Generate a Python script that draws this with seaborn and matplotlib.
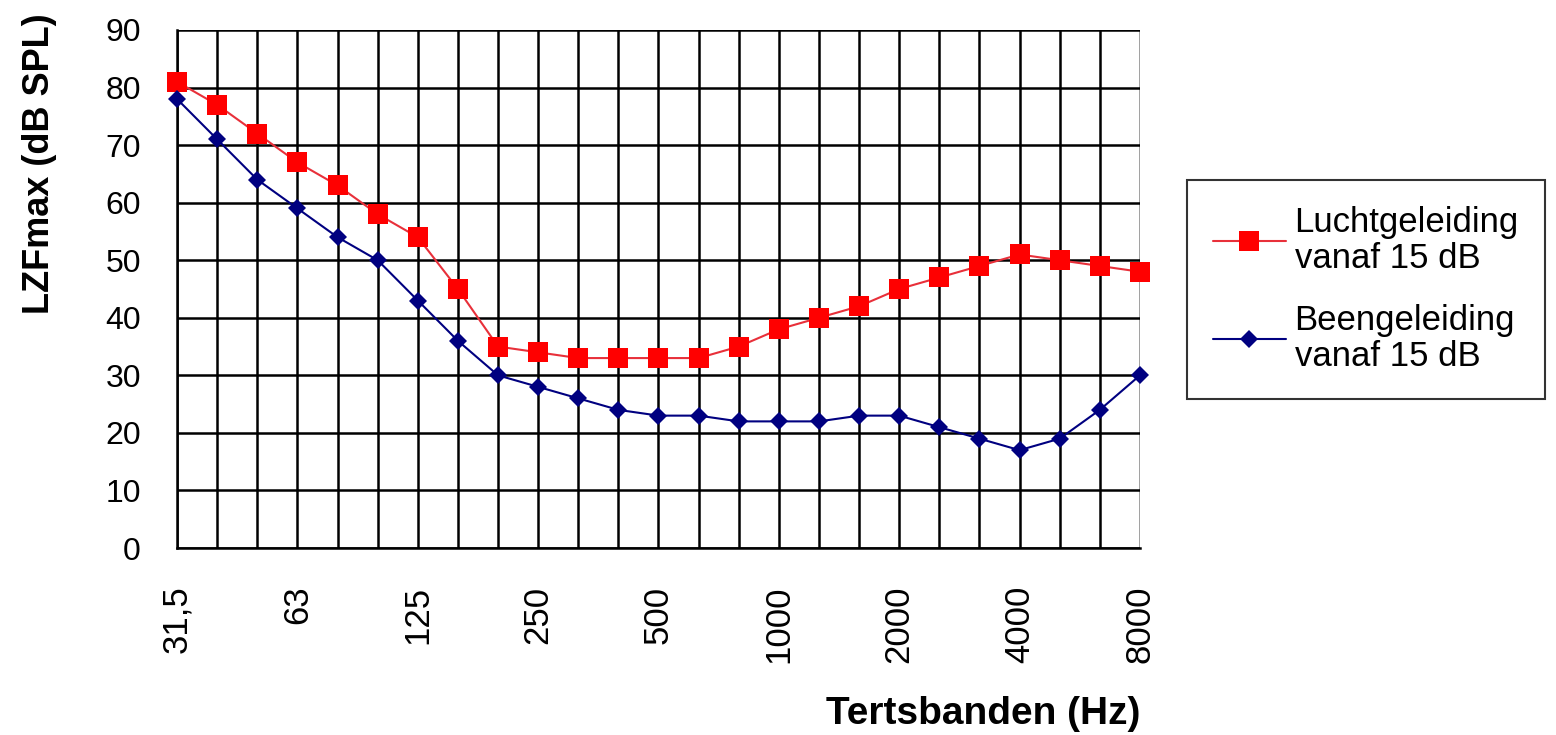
import numpy as np
import pandas as pd
import seaborn as sns
import matplotlib
matplotlib.use('Agg')
import matplotlib.pyplot as plt

# Third-octave bands (Hz)
bands = ['31,5', '40', '50', '63', '80', '100', '125', '160', '200', '250', '315', '400',
         '500', '630', '800', '1000', '1250', '1600', '2000', '2500', '3150', '4000',
         '5000', '6300', '8000']
shown_labels = ['31,5', '63', '125', '250', '500', '1000', '2000', '4000', '8000']

lucht = [81, 77, 72, 67, 63, 58, 54, 45, 35, 34, 33, 33, 33, 33, 35, 38, 40, 42, 45, 47,
         49, 51, 50, 49, 48]
been = [78, 71, 64, 59, 54, 50, 43, 36, 30, 28, 26, 24, 23, 23, 22, 22, 22, 23, 23, 21,
        19, 17, 19, 24, 30]

series_names = ['Luchtgeleiding\nvanaf 15 dB', 'Beengeleiding\nvanaf 15 dB']

df = pd.DataFrame({
    'pos': list(range(len(bands))) * 2,
    'value': lucht + been,
    'serie': [series_names[0]] * len(bands) + [series_names[1]] * len(bands),
})

sns.set_style('white')
plt.rcParams['font.family'] = ['Liberation Sans', 'DejaVu Sans']
for k in ['text.color', 'axes.labelcolor', 'xtick.color', 'ytick.color']:
    plt.rcParams[k] = 'black'

fig = plt.figure(figsize=(15.56, 7.35), dpi=100)
ax = fig.add_axes([0.1138, 0.2544, 0.6188, 0.7048])

sns.lineplot(data=df, x='pos', y='value', hue='serie', style='serie',
             palette={series_names[0]: '#ff0000', series_names[1]: '#000080'},
             markers={series_names[0]: 's', series_names[1]: 'D'},
             dashes=False, linewidth=1.5, markeredgewidth=0,
             ax=ax, legend=False)
ax.lines[0].set_markersize(15)
ax.lines[0].set_color('#e8303a')
ax.lines[0].set_markerfacecolor('#ff0000')
ax.lines[1].set_markersize(9)
for ln in ax.lines:
    ln.set_clip_on(False)
    ln.set_zorder(5)

ax.set_xlim(0, len(bands) - 1)
ax.set_ylim(0, 90)
ax.set_yticks(range(0, 91, 10))
ax.set_xticks(range(len(bands)))
ax.set_xticklabels([b if b in shown_labels else '' for b in bands], rotation=90,
                   fontsize=25)
ax.tick_params(axis='y', labelsize=23, length=10, width=1.5, direction='out', pad=16)
ax.tick_params(axis='x', length=9, width=1.5, direction='out', pad=18)
ax.grid(True, color='black', linewidth=1.8)
ax.xaxis.get_gridlines()[-1].set_color('#909090')
ax.xaxis.get_gridlines()[-1].set_linewidth(1.2)
ax.set_axisbelow(True)
for s in ['top', 'right']:
    ax.spines[s].set_visible(False)
for s in ['left', 'bottom']:
    ax.spines[s].set_color('black')
    ax.spines[s].set_linewidth(1.8)

ax.set_ylabel('LZFmax (dB SPL)', fontsize=26, fontweight='bold')
ax.yaxis.set_label_coords(-0.125, 0.742)
ax.set_xlabel('Tertsbanden (Hz)', fontsize=28, fontweight='bold')
ax.xaxis.set_label_coords(1.0, -0.285)
ax.xaxis.label.set_ha('right')

handles = [
    plt.Line2D([], [], color='#e8303a', marker='s', markersize=14,
               markerfacecolor='#ff0000', markeredgewidth=0, linewidth=1.5),
    plt.Line2D([], [], color='#000080', marker='D', markersize=9,
               markeredgewidth=0, linewidth=1.5),
]
leg = fig.legend(handles, series_names, loc='upper left', bbox_to_anchor=(0.7628, 0.755),
                 fontsize=25, frameon=True, fancybox=False, edgecolor='black',
                 handlelength=2.1, handletextpad=0.25, labelspacing=0.85,
                 borderpad=0.75, borderaxespad=0)
leg.get_frame().set_linewidth(1.5)
for t in leg.get_texts():
    t.set_linespacing(1.1)

fig.savefig('out.png', dpi=100)
